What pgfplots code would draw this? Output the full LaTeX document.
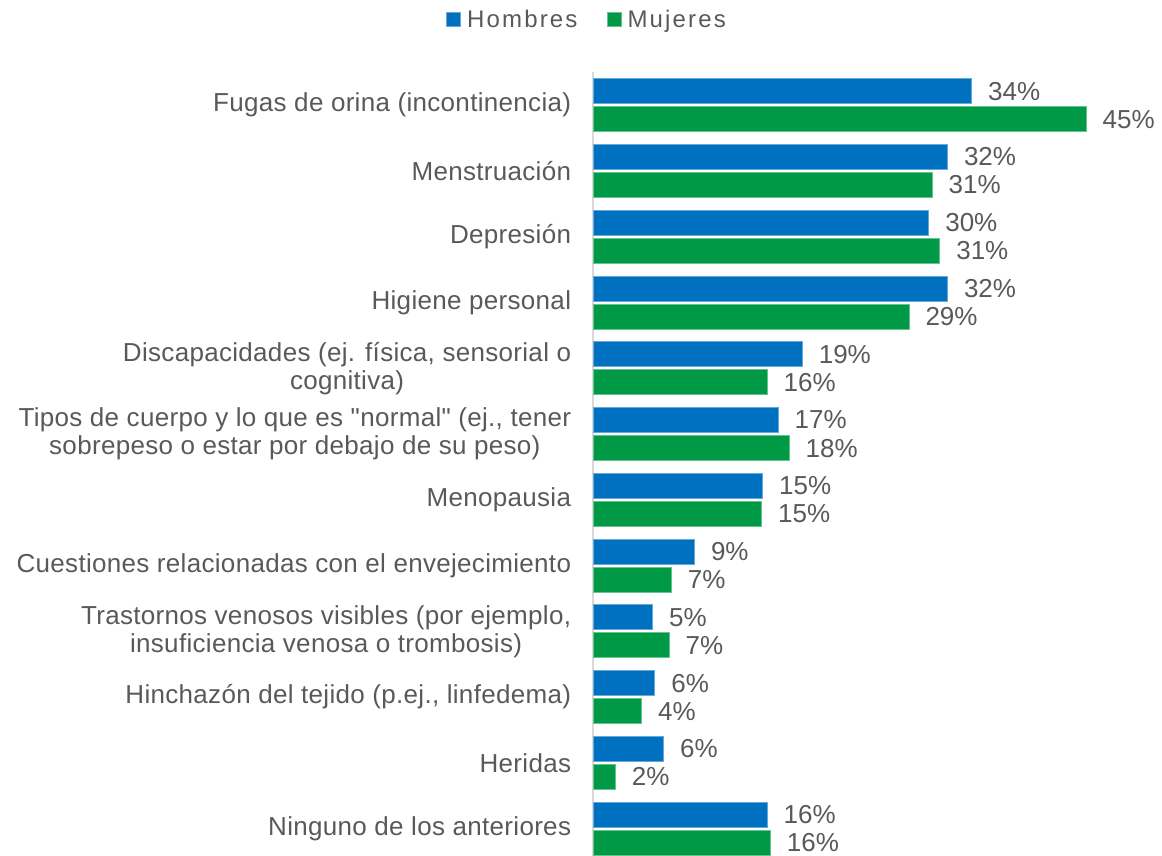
\documentclass[border=0pt]{standalone}
\usepackage{fontspec}
\setmainfont{Liberation Sans}[Ligatures=TeXOff]
\usepackage{pgfplots}
\pgfplotsset{compat=1.18}
\usepackage{pgfplotstable}
\definecolor{cblue}{HTML}{0070C0}
\definecolor{cgreen}{HTML}{009A46}
\definecolor{tgray}{HTML}{595959}
\definecolor{agray}{HTML}{D9D9D9}

\pgfplotstableread{
y val lab
11.213 34.4 34
10.213 32.2 32
9.213 30.5 30
8.213 32.2 32
7.213 19.0 19
6.213 16.8 17
5.213 15.4 15
4.213 9.2 9
3.213 5.4 5
2.213 5.6 6
1.213 6.4 6
0.213 15.8 16
}\hombres

\pgfplotstableread{
y val lab
10.787 44.8 45
9.787 30.8 31
8.787 31.5 31
7.787 28.7 29
6.787 15.8 16
5.787 17.8 18
4.787 15.3 15
3.787 7.1 7
2.787 6.9 7
1.787 4.4 4
0.787 2.0 2
-0.213 16.1 16
}\mujeres

\pgfplotsset{
  sqlegend/.style={legend image code/.code={\fill[##1] (0pt,-7pt) rectangle (14pt,7pt);}}
}

\begin{document}
\begin{tikzpicture}
\path[use as bounding box] (0pt,0pt) rectangle (1162pt,856pt);
\begin{axis}[
  at={(593.3pt,0pt)}, anchor=south west,
  scale only axis, width=572pt, height=783.6pt,
  xmin=0, xmax=52, ymin=-0.417, ymax=11.5,
  xbar, bar width=25pt, bar shift=0pt,
  axis x line=none, axis y line*=left,
  y axis line style={draw=agray, line width=2pt},
  ytick={0,...,11},
  yticklabels={
    {Ninguno de los anteriores},
    {Heridas},
    {Hinchazón del tejido (p.ej., linfedema)},
    {Trastornos venosos visibles (por ejemplo,\\insuficiencia venosa o trombosis)},
    {Cuestiones relacionadas con el envejecimiento},
    {Menopausia},
    {Tipos de cuerpo y lo que es "normal" (ej., tener\\sobrepeso o estar por debajo de su peso)},
    {Discapacidades (ej. física, sensorial o\\cognitiva)},
    {Higiene personal},
    {Depresión},
    {Menstruación},
    {Fugas de orina (incontinencia)}
  },
  ytick style={draw=none}, major tick length=0pt,
  yticklabel style={font=\fontsize{26}{28}\selectfont\addfontfeature{LetterSpace=1.2}, text=tgray, align=center, inner sep=0pt, xshift=-22pt},
  clip=false,
  point meta=explicit symbolic,
  nodes near coords={\pgfplotspointmeta\%},
  nodes near coords style={font=\fontsize{26}{28}\selectfont, text=tgray, anchor=west, inner sep=0pt, xshift=16pt},
  sqlegend,
  legend columns=2,
  legend style={draw=none, fill=none, inner sep=0pt, at={(axis description cs:-0.2575,1.0669)}, anchor=west,
    font=\fontsize{24}{26}\selectfont\addfontfeature{LetterSpace=9}, text=tgray,
    nodes={inner sep=0pt},
    /tikz/every odd column/.append style={column sep=6pt},
    /tikz/every even column/.append style={column sep=29pt}},
]
\addplot[fill=cblue, draw=cblue!60!white, line width=1pt] table[x=val, y=y, meta=lab]{\hombres};
\addplot[fill=cgreen, draw=cgreen!60!white, line width=1pt] table[x=val, y=y, meta=lab]{\mujeres};
\legend{Hombres, Mujeres}
\end{axis}
\end{tikzpicture}
\end{document}
